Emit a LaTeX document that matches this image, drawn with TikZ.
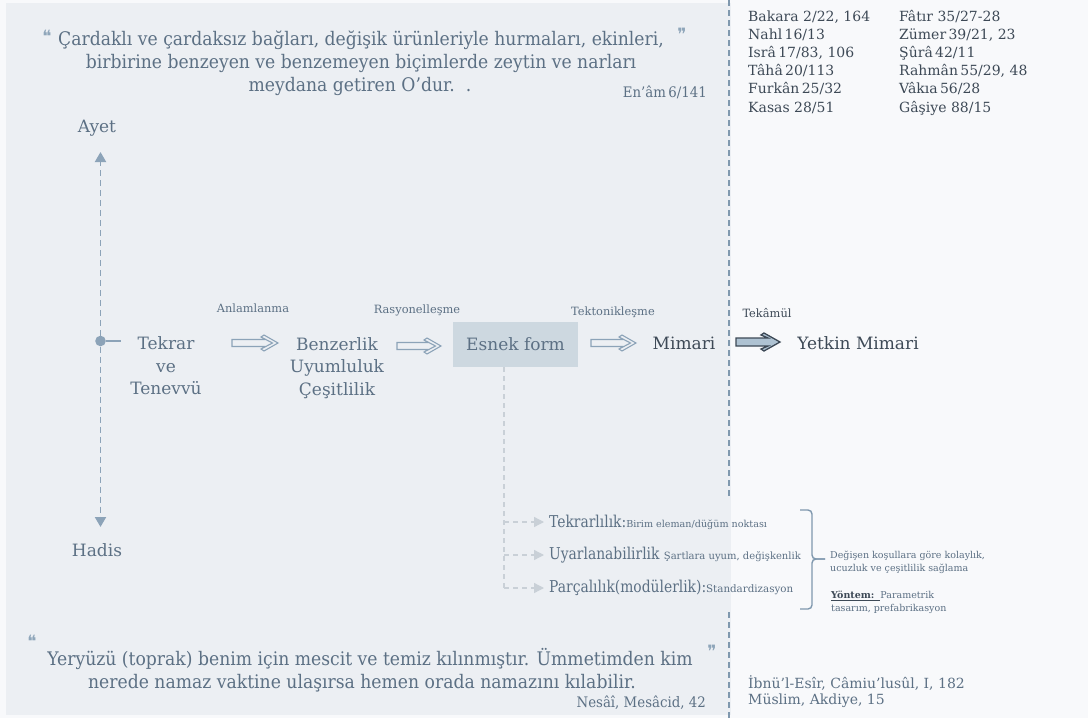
\documentclass[tikz,border=0pt]{standalone}
\usepackage{fontspec}
\setmainfont{DejaVu Serif}
\newfontfamily\qfont[FakeStretch=0.92]{DejaVu Serif}
\newfontfamily\bfont[FakeStretch=0.85]{DejaVu Serif}
\newfontfamily\symfont{DejaVu Sans}
\usetikzlibrary{arrows.meta,calc}

\definecolor{panel}{HTML}{ECEFF3}
\definecolor{pagebg}{HTML}{F8F9FB}
\definecolor{txt}{HTML}{5C7084}
\definecolor{dark}{HTML}{3D4956}
\definecolor{arr}{HTML}{8CA3B8}
\definecolor{brc}{HTML}{7F98AE}
\definecolor{boxc}{HTML}{CDD8E0}
\definecolor{faint}{HTML}{C9D0D7}
\definecolor{heavy}{HTML}{AEC2D2}
\definecolor{qmark}{HTML}{8FA6BA}

\begin{document}
\begin{tikzpicture}[x=1pt,y=-1pt,
  qtext/.style={font=\qfont\fontsize{18.7}{22}\selectfont, text=txt, inner sep=0pt},
  src/.style={font=\qfont\fontsize{14.5}{18}\selectfont, text=txt, inner sep=0pt},
  qm/.style={font=\symfont\fontsize{17}{17}\selectfont, text=qmark, inner sep=0pt},
  ref/.style={font=\fontsize{14}{16}\selectfont, text=dark, inner sep=0pt, anchor=west},
  big/.style={font=\fontsize{17}{22.5}\selectfont, text=txt, inner sep=0pt, align=center},
  small/.style={font=\fontsize{11.4}{13}\selectfont, text=txt, inner sep=0pt},
  branch/.style={font=\bfont\fontsize{16.3}{18}\selectfont, text=txt, inner sep=0pt, anchor=west},
  note/.style={font=\fontsize{9.5}{12.8}\selectfont, text=txt, inner sep=0pt, anchor=west, align=left},
  divider/.style={draw=brc, line width=1.4pt, dash pattern=on 6pt off 4pt},
  axis/.style={draw=arr, line width=1.9pt, dash pattern=on 6pt off 4pt},
  twig/.style={draw=faint, line width=1.3pt, dash pattern=on 5pt off 4pt},
  twigtip/.style={-{Triangle[length=10pt,width=10pt,color=faint]}, shorten >=5pt},
  hollow/.style={draw=arr, line width=1.1pt, fill=panel, line join=miter,
    to path={($(\tikztotarget)+(-12.2,-3.5)$) -- ($(\tikztostart)+(0,-3.5)$)
      -- ($(\tikztostart)+(0,3.5)$) -- ($(\tikztotarget)+(-12.2,3.5)$)
      (\tikztotarget) -- ($(\tikztotarget)+(-14,-8)$) -- ($(\tikztotarget)+(-17,-6)$)
      -- ($(\tikztotarget)+(-5.5,0)$) -- ($(\tikztotarget)+(-17,6)$)
      -- ($(\tikztotarget)+(-14,8)$) -- cycle}},
  solidarrow/.style={draw=dark, line width=1.3pt, fill=heavy, line join=miter,
    to path={($(\tikztostart)+(0,-4)$) -- ($(\tikztotarget)+(-12,-4)$)
      -- ($(\tikztotarget)+(-19,-7)$) -- ($(\tikztotarget)+(-16,-9)$)
      -- (\tikztotarget) -- ($(\tikztotarget)+(-16,9)$)
      -- ($(\tikztotarget)+(-19,7)$) -- ($(\tikztotarget)+(-12,4)$)
      -- ($(\tikztostart)+(0,4)$) -- cycle}},
  bracket/.style={draw=brc, line width=1.4pt, rounded corners=4pt}
]
\fill[pagebg] (0,0) rectangle (1088,718);
\fill[panel] (6,3) rectangle (731,715);
\useasboundingbox (0,0) rectangle (1088,718);

% divider between the panel and the reference column
\coordinate (d0) at (729,0);
\coordinate (d1) at (729,497);
\coordinate (d2) at (729,612);
\coordinate (d3) at (729,718);
\draw[divider] (d0) -- (d1) (d2) -- (d3);

% verse
\node[qm] (qo1) at (47,36) {❝};
\node[qtext] (q1) at (361,40) {Çardaklı ve çardaksız bağları, değişik ürünleriyle hurmaları, ekinleri,};
\node[qm] (qc1) at (682,34) {❞};
\node[qtext] (q2) at (361,63) {birbirine benzeyen ve benzemeyen biçimlerde zeytin ve narları};
\node[qtext] (q3) at (360,86) {meydana getiren O’dur.\ \ .};
\node[src, anchor=east] (s1) at (707,92) {En’âm\,6/141};

% hadith
\node[qm] (qo2) at (32,641) {❝};
\node[qtext] (h1) at (370,659) {Yeryüzü (toprak) benim için mescit ve temiz kılınmıştır. Ümmetimden kim};
\node[qm] (qc2) at (712,651) {❞};
\node[qtext] (h2) at (362,683) {nerede namaz vaktine ulaşırsa hemen orada namazını kılabilir.};
\node[src, anchor=east] (s2) at (706,703) {Nesâî, Mesâcid, 42};

% references
\node[ref] (ra1) at (748,17) {Bakara 2/22, 164};
\node[ref] (ra2) at (748,35) {Nahl\,16/13};
\node[ref] (ra3) at (748,53) {Isrâ\,17/83, 106};
\node[ref] (ra4) at (748,71) {Tâhâ\,20/113};
\node[ref] (ra5) at (748,89) {Furkân\,25/32};
\node[ref] (ra6) at (748,108) {Kasas 28/51};
\node[ref] (rb1) at (899,17) {Fâtır 35/27-28};
\node[ref] (rb2) at (899,35) {Zümer\,39/21, 23};
\node[ref] (rb3) at (899,53) {Şûrâ\,42/11};
\node[ref] (rb4) at (899,71) {Rahmân\,55/29, 48};
\node[ref] (rb5) at (899,89) {Vâkıa\,56/28};
\node[ref] (rb6) at (899,108) {Gâşiye 88/15};
\node[ref, text=txt] (rc1) at (748,683) {İbnü’l-Esîr, Câmiu’lusûl, I, 182};
\node[ref, text=txt] (rc2) at (748,701) {Müslim, Akdiye, 15};

% sources axis
\node[big] (ayet) at (97,128) {Ayet};
\node[big] (hadis) at (97,550) {Hadis};
\node[circle, fill=arr, inner sep=0pt, minimum size=10.6pt] (hub) at (100.5,341) {};
\coordinate (up) at (100.5,152);
\coordinate (down) at (100.5,527);
\coordinate (tick) at (120.5,341);
\draw[axis, -{Triangle[length=10pt,width=11pt]}] (hub) -- (up);
\draw[axis, -{Triangle[length=10pt,width=11pt]}] (hub) -- (down);
\draw[draw=arr, line width=1.4pt] (hub) -- (tick);

% main chain
\node[big] (tekrar) at (166,366) {Tekrar\\ve\\Tenevvü};
\node[big] (benz) at (337,368) {Benzerlik\\Uyumluluk\\Çeşitlilik};
\node[fill=boxc, minimum width=125pt, minimum height=45pt, inner sep=0pt,
      font=\fontsize{17}{20}\selectfont, text=txt] (esnek) at (515.5,344.5) {Esnek form};
\node[big, text=dark] (mimari) at (684,343) {Mimari};
\node[big, text=dark] (yetkin) at (858,343) {Yetkin Mimari};

\node[small] (l1) at (253,308) {Anlamlanma};
\node[small] (l2) at (417,310) {Rasyonelleşme};
\node[small] (l3) at (613,312) {Tektonikleşme};
\node[small, text=dark] (l4) at (767,313) {Tekâmül};

\coordinate (a1s) at (232,343); \coordinate (a1e) at (278,343);
\coordinate (a2s) at (397,346); \coordinate (a2e) at (441,346);
\coordinate (a3s) at (591,343); \coordinate (a3e) at (636,343);
\coordinate (a4s) at (736,342); \coordinate (a4e) at (780,342);
\draw[hollow] (a1s) to (a1e);
\draw[hollow] (a2s) to (a2e);
\draw[hollow] (a3s) to (a3e);
\draw[solidarrow] (a4s) to (a4e);

% properties of the flexible form
\node[branch] (tk) at (549,522) {Tekrarlılık:{\rmfamily\fontsize{9.6}{11}\selectfont Birim eleman/düğüm noktası}};
\node[branch] (uy) at (549,555) {Uyarlanabilirlik {\rmfamily\fontsize{10}{11}\selectfont Şartlara uyum, değişkenlik}};
\node[branch] (pc) at (549,588) {Parçalılık(modülerlik):{\rmfamily\fontsize{10.3}{11}\selectfont Standardizasyon}};
\coordinate (br0) at (504,367);
\coordinate (br1) at (504,522);
\coordinate (br2) at (504,555);
\coordinate (br3) at (504,588);
\draw[twig] (br0) -- (br3);
\draw[twig, twigtip] (br1) -- (tk.west |- br1);
\draw[twig, twigtip] (br2) -- (uy.west |- br2);
\draw[twig, twigtip] (br3) -- (pc.west |- br3);

% bracket and its note
\coordinate (bt) at (800,510);
\coordinate (bb) at (800,609);
\coordinate (bm) at (825,559);
\draw[bracket] (bt) -- (812,510) -- (812,559) -- (bm);
\draw[bracket] (bb) -- (812,609) -- (812,559) -- (bm);
\node[note] (n1) at (830,562.5) {Değişen koşullara göre kolaylık,\\ucuzluk ve çeşitlilik sağlama};
\node[note] (n2) at (831,602.5) {{\color{dark}\underline{\textbf{Yöntem:}\ \ }}Parametrik\\tasarım, prefabrikasyon};
\end{tikzpicture}
\end{document}
